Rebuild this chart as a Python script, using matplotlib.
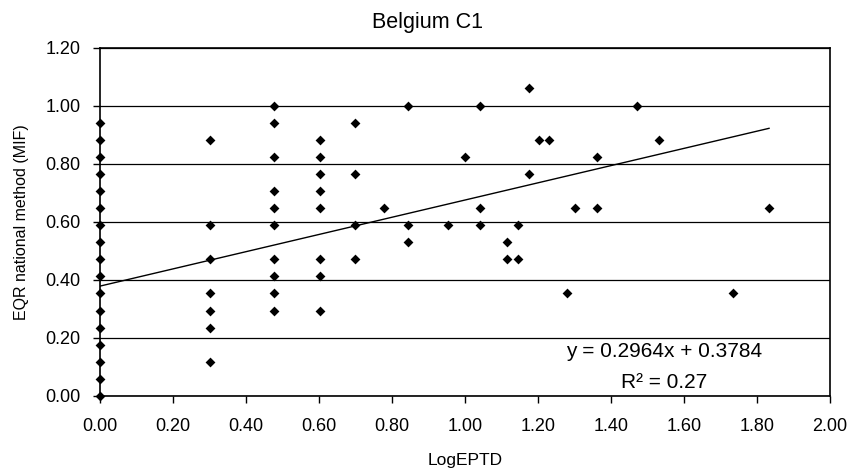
import matplotlib

matplotlib.use("Agg")
import matplotlib.pyplot as plt
import numpy as np

plt.rcParams["font.family"] = ["Liberation Sans", "DejaVu Sans"]

TITLE = "Belgium C1"
X_LABEL = "LogEPTD"
Y_LABEL = "EQR national method (MIF)"

# x = log10 of taxa counts, y = EQR in 1/17 steps
log_eptd = [
    0.0, 0.0, 0.0, 0.0, 0.0, 0.0, 0.0, 0.0, 0.0, 0.0, 0.0, 0.0, 0.0, 0.0, 0.0, 0.0, 0.0,
    0.301, 0.301, 0.301, 0.301, 0.301, 0.301, 0.301,
    0.477, 0.477, 0.477, 0.477, 0.477, 0.477, 0.477, 0.477, 0.477, 0.477,
    0.602, 0.602, 0.602, 0.602, 0.602, 0.602, 0.602, 0.602,
    0.699, 0.699, 0.699, 0.699,
    0.778,
    0.845, 0.845, 0.845,
    0.954,
    1.000,
    1.041, 1.041, 1.041,
    1.114, 1.114,
    1.146, 1.146,
    1.176, 1.176,
    1.204,
    1.230,
    1.279,
    1.301,
    1.362, 1.362,
    1.470,
    1.531,
    1.735,
    1.833,
]
eqr = [
    0.000, 0.059, 0.118, 0.176, 0.235, 0.294, 0.353, 0.412, 0.471, 0.529, 0.588, 0.647,
    0.706, 0.765, 0.824, 0.882, 0.941,
    0.882, 0.588, 0.471, 0.353, 0.294, 0.235, 0.118,
    1.000, 0.941, 0.824, 0.706, 0.647, 0.588, 0.471, 0.412, 0.353, 0.294,
    0.882, 0.824, 0.765, 0.706, 0.647, 0.471, 0.412, 0.294,
    0.941, 0.765, 0.588, 0.471,
    0.647,
    1.000, 0.588, 0.529,
    0.588,
    0.824,
    1.000, 0.647, 0.588,
    0.529, 0.471,
    0.588, 0.471,
    1.059, 0.765,
    0.882,
    0.882,
    0.353,
    0.647,
    0.824, 0.647,
    1.000,
    0.882,
    0.353,
    0.647,
]

SLOPE = 0.2964
INTERCEPT = 0.3784
R_SQUARED = 0.27

x_ticks = np.arange(0, 2.01, 0.2)
y_ticks = np.arange(0, 1.21, 0.2)

fig = plt.figure(figsize=(8.56, 4.74), dpi=100)
ax = fig.add_axes([100 / 856, 1 - 396 / 474, 730 / 856, 348.5 / 474])

ax.set_axisbelow(True)
ax.grid(True, axis="y", color="black", linewidth=0.9)
ax.scatter(log_eptd, eqr, marker="D", s=25, color="black", linewidths=0, zorder=3, clip_on=False)

x_fit = np.array([0.0, max(log_eptd)])
ax.plot(x_fit, SLOPE * x_fit + INTERCEPT, color="black", linewidth=1.0, zorder=2)

ax.set_xlim(0, 2.0)
ax.set_ylim(0, 1.2)
ax.set_xticks(x_ticks)
ax.set_xticklabels([f"{v:.2f}" for v in x_ticks])
ax.set_yticks(y_ticks)
ax.set_yticklabels([f"{v:.2f}" for v in y_ticks])
ax.tick_params(axis="both", direction="out", length=5, width=1.0, labelsize=13, color="black")
ax.tick_params(axis="x", pad=11)
ax.tick_params(axis="y", pad=9)
for spine in ax.spines.values():
    spine.set_color("black")
    spine.set_linewidth(1.2)

ax.set_ylabel(Y_LABEL, fontsize=11.5, labelpad=12)
fig.text(465 / 856, 1 - 465 / 474, X_LABEL, ha="center", va="baseline", fontsize=12.5)
fig.text(428 / 856, 1 - 28 / 474, TITLE, ha="center", va="baseline", fontsize=15.5)

ax.text(1.545, 0.133, f"y = {SLOPE:.4f}x + {INTERCEPT:.4f}", ha="center", va="baseline", fontsize=15)
ax.text(1.545, 0.028, f"R² = {R_SQUARED:.2f}", ha="center", va="baseline", fontsize=15)

fig.savefig("out.png", dpi=100)
